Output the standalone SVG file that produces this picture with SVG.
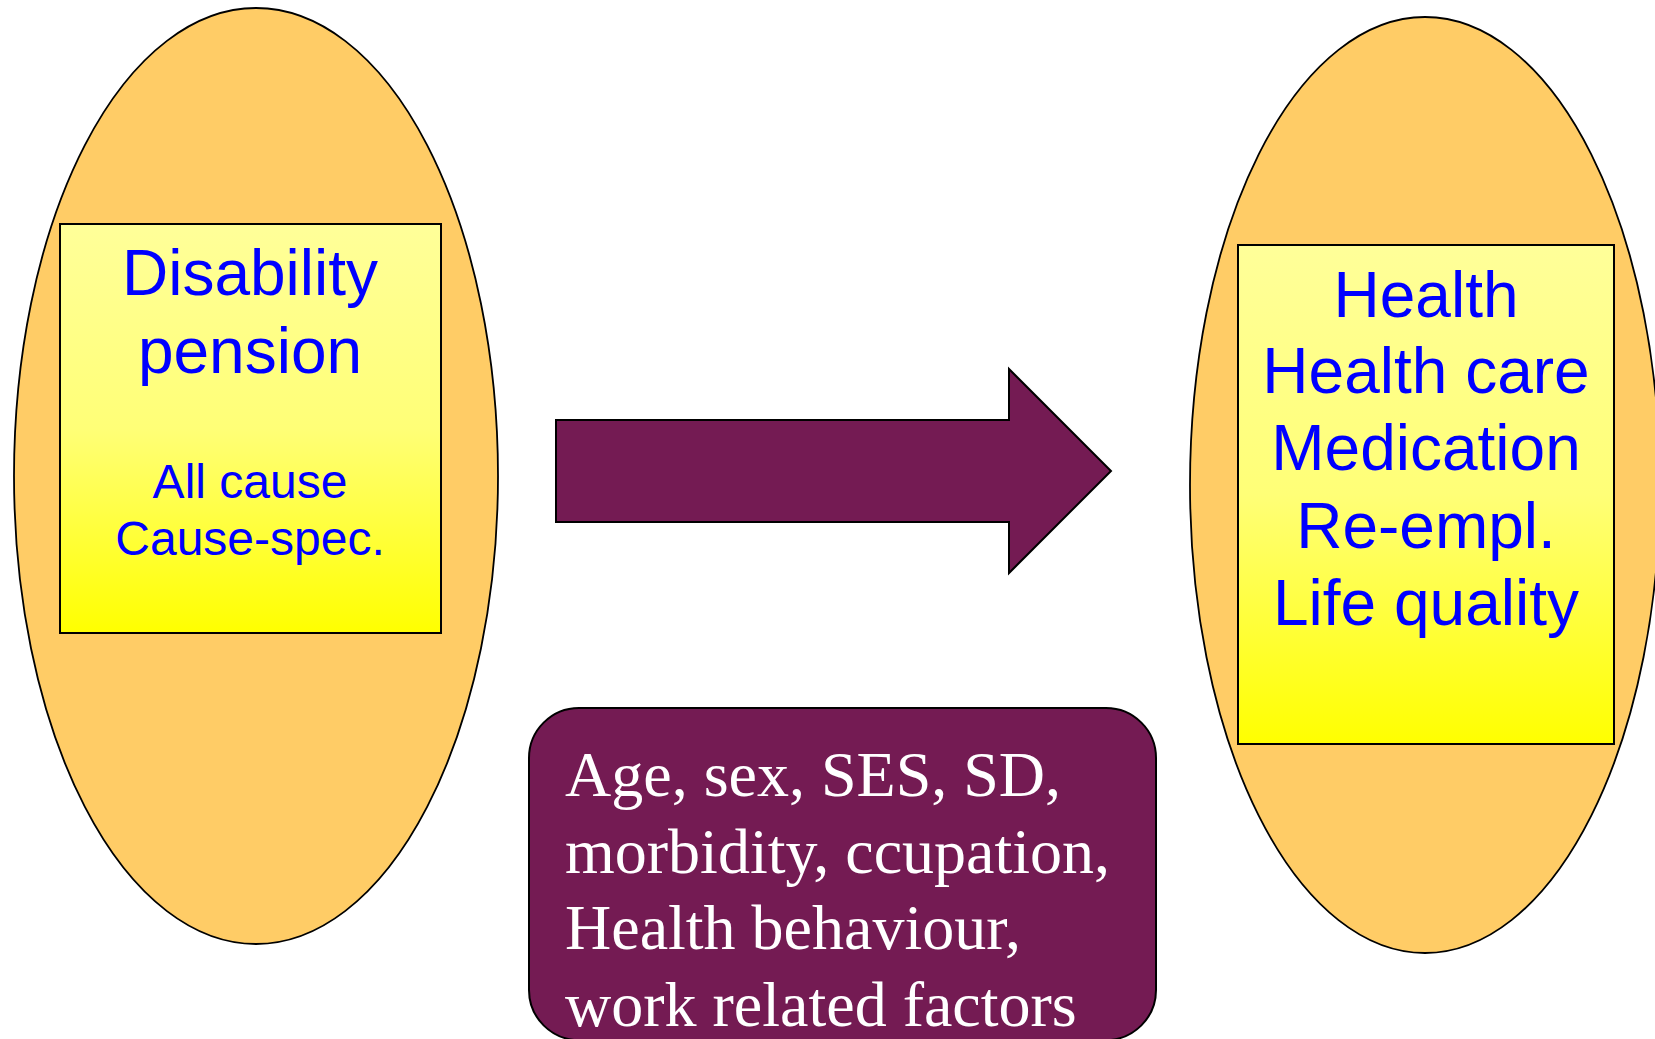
<svg xmlns="http://www.w3.org/2000/svg" width="1655" height="1039" viewBox="0 0 1655 1039">
<defs>
<linearGradient id="yg" x1="0" y1="0" x2="0" y2="1">
<stop offset="0" stop-color="#FFFF99"/>
<stop offset="0.5" stop-color="#FFFF77"/>
<stop offset="1" stop-color="#FFFF00"/>
</linearGradient>
<style>
.ell{fill:#FFCC66;stroke:#000;stroke-width:1.8}
.box{fill:url(#yg);stroke:#000;stroke-width:2}
.blue{fill:#0000FF;font-family:"Liberation Sans",Arial,sans-serif;text-anchor:middle}
.plum{fill:#741B53;stroke:#000;stroke-width:2}
.white{fill:#FFFFFF;font-family:"Liberation Serif","Times New Roman",serif;font-size:64px}
</style>
</defs>
<rect width="1655" height="1039" fill="#FFFFFF"/>
<g id="left-node">
<ellipse class="ell" cx="256" cy="476" rx="242" ry="468"/>
<rect class="box" x="60" y="224" width="381" height="409"/>
<text class="blue" x="250" y="295" font-size="64">Disability</text>
<text class="blue" x="250" y="373" font-size="64">pension</text>
<text class="blue" x="250" y="498" font-size="48">All cause</text>
<text class="blue" x="250" y="555" font-size="48">Cause-spec.</text>
</g>
<g id="right-node">
<ellipse class="ell" cx="1425" cy="485" rx="235" ry="468"/>
<rect class="box" x="1238" y="245" width="376" height="499"/>
<text class="blue" x="1426" y="317" font-size="64">Health</text>
<text class="blue" x="1426" y="393" font-size="64">Health care</text>
<text class="blue" x="1426" y="470" font-size="64">Medication</text>
<text class="blue" x="1426" y="548" font-size="64">Re-empl.</text>
<text class="blue" x="1426" y="625" font-size="64">Life quality</text>
</g>
<g id="connectors">
<polygon class="plum" points="556,420 1009,420 1009,369 1111,471 1009,573 1009,522 556,522"/>
</g>
<g id="factors-node">
<rect class="plum" x="529" y="708" width="627" height="332" rx="50" ry="50"/>
<text class="white" x="565" y="796">Age, sex, SES, SD,</text>
<text class="white" x="565" y="873">morbidity, ccupation,</text>
<text class="white" x="565" y="949">Health behaviour,</text>
<text class="white" x="565" y="1026">work related factors</text>
</g>
</svg>
